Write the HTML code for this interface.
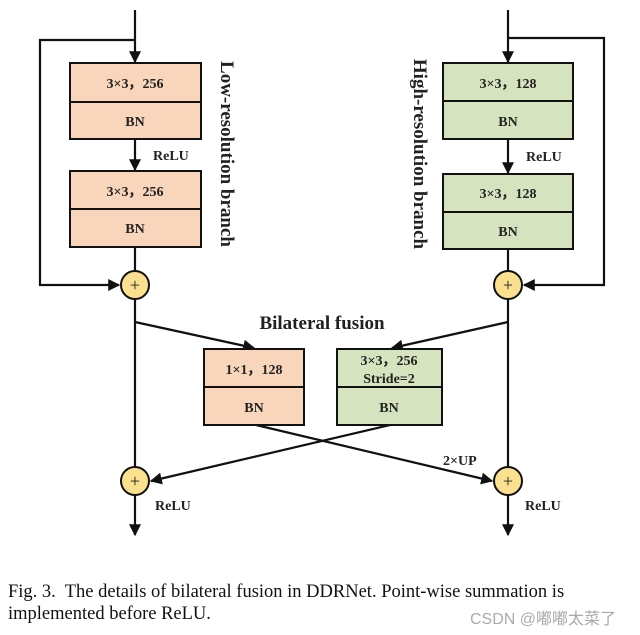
<!DOCTYPE html>
<html><head><meta charset="utf-8"><style>
html,body{margin:0;padding:0;background:#fff;width:640px;height:635px;overflow:hidden}
svg text{font-family:"Liberation Serif",serif;font-weight:bold;fill:#222}
.cap{position:absolute;left:8px;font-family:"Liberation Serif",serif;font-size:18.5px;color:#111;white-space:nowrap}
</style></head><body>
<svg width="640" height="635" viewBox="0 0 640 635" style="position:absolute;left:0;top:0">
<defs><marker id="a" viewBox="0 0 10 10" refX="9" refY="5" markerWidth="12" markerHeight="12" markerUnits="userSpaceOnUse" orient="auto"><path d="M0,0 L10,5 L0,10 Z" fill="#111"/></marker></defs>
<g stroke="#111" stroke-width="2.2" fill="none">
<!-- left branch -->
<line x1="135" y1="10" x2="135" y2="62" marker-end="url(#a)"/>
<polyline points="135,40 40,40 40,285 119,285" marker-end="url(#a)"/>
<line x1="135" y1="139" x2="135" y2="170" marker-end="url(#a)"/>
<line x1="135" y1="247" x2="135" y2="271"/>
<line x1="135" y1="299" x2="135" y2="467"/>
<line x1="135" y1="495" x2="135" y2="535" marker-end="url(#a)"/>
<!-- right branch -->
<line x1="508" y1="10" x2="508" y2="62" marker-end="url(#a)"/>
<polyline points="508,38 604,38 604,285 524,285" marker-end="url(#a)"/>
<line x1="508" y1="139" x2="508" y2="173" marker-end="url(#a)"/>
<line x1="508" y1="249" x2="508" y2="271"/>
<line x1="508" y1="299" x2="508" y2="467"/>
<line x1="508" y1="495" x2="508" y2="535" marker-end="url(#a)"/>
<!-- fusion -->
<line x1="135" y1="322" x2="254" y2="348" marker-end="url(#a)"/>
<line x1="508" y1="322" x2="392" y2="348" marker-end="url(#a)"/>
<line x1="256" y1="425" x2="492" y2="481" marker-end="url(#a)"/>
<line x1="390" y1="425" x2="151" y2="481" marker-end="url(#a)"/>
</g>
<g stroke="#111" stroke-width="2">
<rect x="70" y="63" width="131" height="76" fill="#f8d5bb"/><line x1="70" y1="102" x2="201" y2="102"/>
<rect x="70" y="171" width="131" height="76" fill="#f8d5bb"/><line x1="70" y1="209" x2="201" y2="209"/>
<rect x="443" y="63" width="130" height="76" fill="#d6e3bf"/><line x1="443" y1="101" x2="573" y2="101"/>
<rect x="443" y="174" width="130" height="75" fill="#d6e3bf"/><line x1="443" y1="212" x2="573" y2="212"/>
<rect x="204" y="349" width="100" height="76" fill="#f8d5bb"/><line x1="204" y1="387" x2="304" y2="387"/>
<rect x="337" y="349" width="105" height="76" fill="#d6e3bf"/><line x1="337" y1="387" x2="442" y2="387"/>
<circle cx="135" cy="285" r="14" fill="#fbe08f"/>
<circle cx="508" cy="285" r="14" fill="#fbe08f"/>
<circle cx="135" cy="481" r="14" fill="#fbe08f"/>
<circle cx="508" cy="481" r="14" fill="#fbe08f"/>
</g>
<g font-size="18" text-anchor="middle" style="font-weight:normal">
<text x="135" y="291" style="font-weight:normal">+</text><text x="508" y="291" style="font-weight:normal">+</text>
<text x="135" y="487" style="font-weight:normal">+</text><text x="508" y="487" style="font-weight:normal">+</text>
</g>
<g font-size="14" text-anchor="middle">
<text x="135" y="88">3×3，256</text><text x="135" y="126">BN</text>
<text x="135" y="196">3×3，256</text><text x="135" y="233">BN</text>
<text x="508" y="88">3×3，128</text><text x="508" y="126">BN</text>
<text x="508" y="198">3×3，128</text><text x="508" y="236">BN</text>
<text x="254" y="374">1×1，128</text><text x="254" y="412">BN</text>
<text x="389" y="365">3×3，256</text><text x="389" y="383">Stride=2</text><text x="389" y="412">BN</text>
</g>
<g font-size="14">
<text x="153" y="160">ReLU</text><text x="526" y="161">ReLU</text>
<text x="155" y="510">ReLU</text><text x="525" y="510">ReLU</text>
<text x="443" y="465">2×UP</text>
</g>
<text x="322" y="329" font-size="19" text-anchor="middle">Bilateral fusion</text>
<text transform="translate(221,154) rotate(90)" font-size="19" text-anchor="middle">Low-resolution branch</text>
<text transform="translate(414,154) rotate(90)" font-size="19" text-anchor="middle">High-resolution branch</text>
</svg>
<div class="cap" style="top:582px">Fig. 3.&nbsp; The details of bilateral fusion in DDRNet. Point-wise summation is</div>
<div class="cap" style="top:604px">implemented before ReLU.</div>
<div style="position:absolute;left:470px;top:605px;font-family:'Liberation Sans','Noto Sans CJK SC',sans-serif;font-size:16px;color:#aaa">CSDN @嘟嘟太菜了</div>
</body></html>
